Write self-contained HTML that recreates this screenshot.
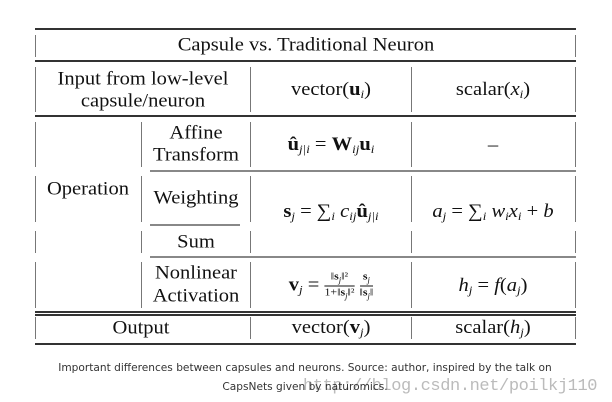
<!DOCTYPE html>
<html><head><meta charset="utf-8"><style>
body{margin:0;background:#fff;}
#c{position:relative;width:612px;height:402px;overflow:hidden;font-family:"Liberation Serif",serif;color:#111;}
.h{position:absolute;height:1.5px;background:#333;}
.v{position:absolute;width:1.4px;background:#777;}
.t{position:absolute;font-size:19px;text-align:center;white-space:nowrap;transform:translate(-50%,-50%) scaleX(1.08);line-height:1;}
b{font-weight:bold}
sub{font-size:12px;vertical-align:-3px;font-style:italic}
i{font-style:italic}
.cap{position:absolute;font-family:"DejaVu Sans","Liberation Sans",sans-serif;font-size:10.6px;color:#333;white-space:nowrap;transform:translateX(-50%);}
.wm{position:absolute;left:303px;top:377px;font-family:"Liberation Mono","DejaVu Sans Mono",monospace;font-size:17px;color:#bbb;white-space:nowrap;letter-spacing:-0.4px}
.fr{display:inline-block;vertical-align:middle;text-align:center;font-size:11px;line-height:1.25}
.fr span{display:block}
.fr .n{border-bottom:1px solid #111}
</style></head><body><div id="c">
<div class="h" style="left:35px;width:541px;top:28px;height:2px"></div>
<div class="h" style="left:35px;width:541px;top:60px"></div>
<div class="h" style="left:35px;width:541px;top:115px"></div>
<div class="h" style="left:150px;width:426px;top:170px;background:#888"></div>
<div class="h" style="left:150px;width:90px;top:224px;background:#888"></div>
<div class="h" style="left:150px;width:426px;top:256px;background:#888"></div>
<div class="h" style="left:35px;width:541px;top:311px"></div>
<div class="h" style="left:35px;width:541px;top:314px"></div>
<div class="h" style="left:35px;width:541px;top:343px;height:2px"></div>

<div class="v" style="left:35px;top:35px;height:22px"></div>
<div class="v" style="left:575px;top:35px;height:22px"></div>
<div class="v" style="left:35px;top:67px;height:45px"></div>
<div class="v" style="left:250px;top:67px;height:45px"></div>
<div class="v" style="left:411px;top:67px;height:45px"></div>
<div class="v" style="left:575px;top:67px;height:45px"></div>
<div class="v" style="left:35px;top:122px;height:45px"></div>
<div class="v" style="left:141px;top:122px;height:45px"></div>
<div class="v" style="left:250px;top:122px;height:45px"></div>
<div class="v" style="left:411px;top:122px;height:45px"></div>
<div class="v" style="left:575px;top:122px;height:45px"></div>
<div class="v" style="left:35px;top:176px;height:46px"></div>
<div class="v" style="left:141px;top:176px;height:46px"></div>
<div class="v" style="left:250px;top:176px;height:46px"></div>
<div class="v" style="left:411px;top:176px;height:46px"></div>
<div class="v" style="left:575px;top:176px;height:46px"></div>
<div class="v" style="left:35px;top:231px;height:22px"></div>
<div class="v" style="left:141px;top:231px;height:22px"></div>
<div class="v" style="left:250px;top:231px;height:22px"></div>
<div class="v" style="left:411px;top:231px;height:22px"></div>
<div class="v" style="left:575px;top:231px;height:22px"></div>
<div class="v" style="left:35px;top:262px;height:46px"></div>
<div class="v" style="left:141px;top:262px;height:46px"></div>
<div class="v" style="left:250px;top:262px;height:46px"></div>
<div class="v" style="left:411px;top:262px;height:46px"></div>
<div class="v" style="left:575px;top:262px;height:46px"></div>
<div class="v" style="left:35px;top:317px;height:22px"></div>
<div class="v" style="left:250px;top:317px;height:22px"></div>
<div class="v" style="left:411px;top:317px;height:22px"></div>
<div class="v" style="left:575px;top:317px;height:22px"></div>

<div class="t" style="left:306px;top:45px">Capsule vs. Traditional Neuron</div>
<div class="t" style="left:143px;top:79px">Input from low-level</div>
<div class="t" style="left:143px;top:101px">capsule/neuron</div>
<div class="t" style="left:331px;top:90px">vector(<b>u</b><sub>i</sub>)</div>
<div class="t" style="left:493px;top:90px">scalar(<i>x</i><sub>i</sub>)</div>
<div class="t" style="left:196px;top:133px">Affine</div>
<div class="t" style="left:196px;top:155px">Transform</div>
<div class="t" style="left:331px;top:145px"><b>û</b><sub>j|i</sub> = <b>W</b><sub>ij</sub><b>u</b><sub>i</sub></div>
<div class="t" style="left:493px;top:145px">–</div>
<div class="t" style="left:88px;top:189px">Operation</div>
<div class="t" style="left:196px;top:198px">Weighting</div>
<div class="t" style="left:331px;top:212px"><b>s</b><sub>j</sub> = ∑<sub>i</sub> <i>c</i><sub>ij</sub><b>û</b><sub>j|i</sub></div>
<div class="t" style="left:493px;top:212px"><i>a</i><sub>j</sub> = ∑<sub>i</sub> <i>w</i><sub>i</sub><i>x</i><sub>i</sub> + <i>b</i></div>
<div class="t" style="left:196px;top:242px">Sum</div>
<div class="t" style="left:196px;top:273px">Nonlinear</div>
<div class="t" style="left:196px;top:296px">Activation</div>
<div class="t" style="left:331px;top:286px"><b>v</b><sub>j</sub> = <span class="fr"><span class="n">‖<b>s</b><sub style="font-size:8px">j</sub>‖²</span><span>1+‖<b>s</b><sub style="font-size:8px">j</sub>‖²</span></span> <span class="fr"><span class="n"><b>s</b><sub style="font-size:8px">j</sub></span><span>‖<b>s</b><sub style="font-size:8px">j</sub>‖</span></span></div>
<div class="t" style="left:493px;top:286px"><i>h</i><sub>j</sub> = <i>f</i>(<i>a</i><sub>j</sub>)</div>
<div class="t" style="left:141px;top:328px">Output</div>
<div class="t" style="left:331px;top:328px">vector(<b>v</b><sub>j</sub>)</div>
<div class="t" style="left:493px;top:328px">scalar(<i>h</i><sub>j</sub>)</div>

<div class="wm">http://blog.csdn.net/poilkj110</div>
<div class="cap" style="left:305px;top:362px">Important differences between capsules and neurons. Source: author, inspired by the talk on</div>
<div class="cap" style="left:305px;top:381px">CapsNets given by naturomics.</div>
</div></body></html>
